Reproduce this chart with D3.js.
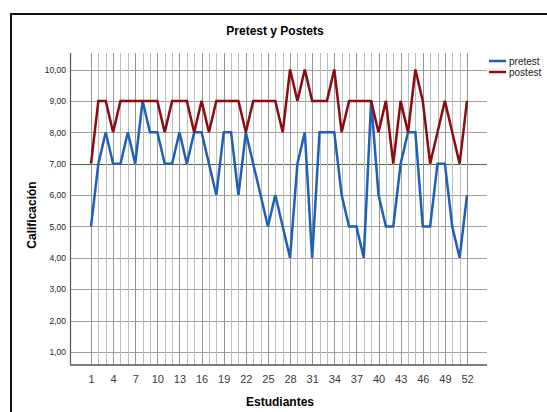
<!DOCTYPE html>
<html>
<head>
<meta charset="utf-8">
<script src="https://cdn.jsdelivr.net/npm/d3@7"></script>
<style>
body { margin: 0; background: #fff; }
text { font-family: "Liberation Sans", Arial, sans-serif; }
</style>
</head>
<body>
<div id="chart"></div>
<script>
// student numbers 1..52
var students = d3.range(1, 53);
var pretest = [5,7,8,7,7,8,7,9,8,8, 7,7,8,7,8,8,7,6,8,8,
               6,8,7,6,5,6,5,4,7,8, 4,8,8,8,6,5,5,4,9,6,
               5,5,7,8,8,5,5,7,7,5, 4,6];
var postest = [7,9,9,8,9,9,9,9,9,9, 8,9,9,9,8,9,8,9,9,9,
               9,8,9,9,9,9,8,10,9,10, 9,9,9,10,8,9,9,9,9,8,
               9,7,9,8,10,9,7,8,9,8, 7,9];
var yTicks = [1,2,3,4,5,6,7,8,9,10];
var xTicks = [1,4,7,10,13,16,19,22,25,28,31,34,37,40,43,46,49,52];
var refValue = 7;

var width = 547, height = 412;
var plot = { left: 70, right: 487, top: 53, bottom: 365 };

var svg = d3.select("#chart").append("svg")
    .attr("width", width)
    .attr("height", height);

// outer frame
svg.append("path")
    .attr("d", "M11," + height + "V14H" + width)
    .attr("fill", "none")
    .attr("stroke", "#111")
    .attr("stroke-width", 2);

var x = d3.scaleLinear().domain([1, 52]).range([91, 467]);
var y = d3.scaleLinear().domain([1, 10]).range([352, 69.5]);

// horizontal grid
svg.append("g").selectAll("line")
    .data(yTicks)
    .enter().append("line")
    .attr("x1", plot.left)
    .attr("x2", plot.right)
    .attr("y1", function(d) { return Math.round(y(d)) + 0.5; })
    .attr("y2", function(d) { return Math.round(y(d)) + 0.5; })
    .attr("stroke", "#a0a0a0")
    .attr("stroke-width", 1);

// reference line at 7
svg.append("line")
    .attr("x1", plot.left).attr("x2", plot.right)
    .attr("y1", Math.round(y(refValue)) + 0.5).attr("y2", Math.round(y(refValue)) + 0.5)
    .attr("stroke", "#3f6e3a").attr("stroke-width", 1.2);

// vertical grid, one per student
svg.append("g").selectAll("line")
    .data(students)
    .enter().append("line")
    .attr("x1", function(d) { return Math.round(x(d)) + 0.5; })
    .attr("x2", function(d) { return Math.round(x(d)) + 0.5; })
    .attr("y1", plot.top)
    .attr("y2", plot.bottom)
    .attr("stroke", function(d) { return (d - 1) % 3 == 0 ? "#959595" : "#bcbcbc"; })
    .attr("stroke-width", 1);

// y axis
var yAxis = d3.axisLeft(y)
    .tickValues(yTicks)
    .tickSize(0)
    .tickPadding(4)
    .tickFormat(function(d) { return d3.format(".2f")(d).replace(".", ","); });
var gy = svg.append("g")
    .attr("transform", "translate(" + plot.left + ",0)")
    .call(yAxis);
gy.select(".domain").remove();
gy.selectAll("text").attr("font-size", 8.5).attr("fill", "#222")
    .style("font-family", "'Liberation Sans', Arial, sans-serif");

svg.append("line")
    .attr("x1", plot.left + 0.5).attr("x2", plot.left + 0.5)
    .attr("y1", plot.top).attr("y2", plot.bottom)
    .attr("stroke", "#555").attr("stroke-width", 1.2);

// x axis
var xAxis = d3.axisBottom(x)
    .tickValues(xTicks)
    .tickSize(0)
    .tickPadding(10)
    .tickFormat(d3.format("d"));
var gx = svg.append("g")
    .attr("transform", "translate(0," + plot.bottom + ")")
    .call(xAxis);
gx.select(".domain").remove();
gx.selectAll("text").attr("font-size", 11).attr("fill", "#3a3a3a")
    .style("font-family", "'Liberation Sans', Arial, sans-serif");

svg.append("line")
    .attr("x1", plot.left).attr("x2", plot.right)
    .attr("y1", plot.bottom).attr("y2", plot.bottom)
    .attr("stroke", "#555").attr("stroke-width", 1.6);

var line = d3.line()
    .x(function(d, i) { return x(students[i]); })
    .y(function(d) { return y(d); });

svg.append("path")
    .datum(pretest)
    .attr("d", line)
    .attr("fill", "none")
    .attr("stroke", "#1f5fb8")
    .attr("stroke-width", 2.5)
    .attr("stroke-linejoin", "miter");

svg.append("path")
    .datum(postest)
    .attr("d", line)
    .attr("fill", "none")
    .attr("stroke", "#8c0b10")
    .attr("stroke-width", 2.5)
    .attr("stroke-linejoin", "miter");

// title and axis labels
svg.append("text")
    .attr("x", 275).attr("y", 35)
    .attr("text-anchor", "middle")
    .attr("font-size", 12).attr("font-weight", "bold")
    .text("Pretest y Postets");

svg.append("text")
    .attr("x", 280).attr("y", 406)
    .attr("text-anchor", "middle")
    .attr("font-size", 12).attr("font-weight", "bold")
    .text("Estudiantes");

svg.append("text")
    .attr("transform", "translate(36,215) rotate(-90)")
    .attr("text-anchor", "middle")
    .attr("font-size", 12).attr("font-weight", "bold")
    .text("Calificación");

// legend
var legend = [{ name: "pretest", color: "#1f5fb8" }, { name: "postest", color: "#8c0b10" }];
var lg = svg.append("g").selectAll("g")
    .data(legend)
    .enter().append("g")
    .attr("transform", function(d, i) { return "translate(489," + (61 + i * 11) + ")"; });
lg.append("line")
    .attr("x1", 0).attr("x2", 17)
    .attr("stroke", function(d) { return d.color; })
    .attr("stroke-width", 2.5);
lg.append("text")
    .attr("x", 20).attr("y", 3.5)
    .attr("font-size", 10).attr("fill", "#222")
    .text(function(d) { return d.name; });
</script>
</body>
</html>
